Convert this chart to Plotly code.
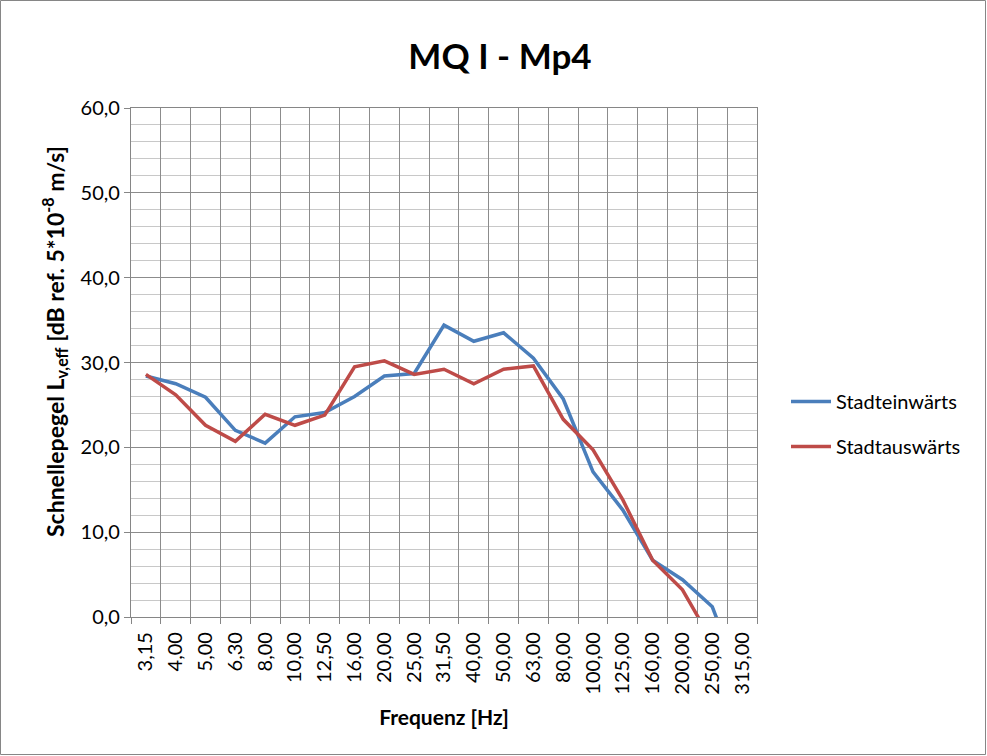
import plotly.graph_objects as go

categories = ["3,15", "4,00", "5,00", "6,30", "8,00", "10,00", "12,50", "16,00", "20,00", "25,00",
              "31,50", "40,00", "50,00", "63,00", "80,00", "100,00", "125,00", "160,00", "200,00",
              "250,00", "315,00"]
stadteinwaerts = [28.4, 27.5, 25.9, 22.0, 20.5, 23.6, 24.1, 26.0, 28.4, 28.7,
                  34.4, 32.5, 33.5, 30.5, 25.7, 17.1, 12.6, 6.7, 4.4, 1.2, -8.0]
stadtauswaerts = [28.6, 26.2, 22.6, 20.7, 23.9, 22.6, 23.8, 29.5, 30.2, 28.6,
                  29.2, 27.5, 29.2, 29.6, 23.3, 19.7, 13.8, 6.7, 3.2, -2.9, -10.0]

FONT = "Lato, 'Open Sans', sans-serif"

fig = go.Figure()
fig.add_trace(go.Scatter(x=categories, y=stadteinwaerts, mode="lines", name="Stadteinwärts",
                         legendgroup="a", line=dict(color="#4A7EBB", width=3.5)))
fig.add_trace(go.Scatter(x=categories, y=stadtauswaerts, mode="lines", name="Stadtauswärts",
                         legendgroup="b", line=dict(color="#BE4B48", width=3.5)))

L, R, T, B = 131, 230, 108, 139
W, H = 987, 756
pw = W - L - R
ph = H - T - B

fig.update_layout(
    width=W, height=H,
    margin=dict(l=L, r=R, t=T, b=B),
    paper_bgcolor="white", plot_bgcolor="white",
    separators=",.",
    font=dict(family=FONT, color="black", size=19),
    title=dict(text="<b>MQ I - Mp4</b>", x=500 / W, xanchor="center", y=1 - 57 / H, yanchor="middle",
               font=dict(size=35, family=FONT, color="black")),
    showlegend=True,
    legend=dict(x=(786 - L) / pw, xanchor="left", y=(H - B - 424) / ph, yanchor="middle",
                font=dict(size=20, family=FONT), bgcolor="rgba(0,0,0,0)",
                tracegroupgap=16, itemwidth=40),
    xaxis=dict(type="category", categoryorder="array", categoryarray=categories,
               range=[-0.5, len(categories) - 0.5],
               tickson="boundaries", ticks="outside", ticklen=6, tickcolor="#868686",
               ticklabelstandoff=6,
               showgrid=True, gridcolor="#8c8c8c", gridwidth=1.2,
               showline=True, linecolor="#868686", linewidth=1.2, mirror=True,
               tickangle=-90, tickfont=dict(size=20, family=FONT),
               title=dict(text="<b>Frequenz [Hz]</b>", font=dict(size=21, family=FONT), standoff=16),
               zeroline=False),
    yaxis=dict(range=[0, 60], dtick=10, tickformat=".1f",
               ticks="outside", ticklen=6, tickcolor="#868686",
               showgrid=True, gridcolor="#8c8c8c", gridwidth=1.2,
               minor=dict(dtick=2, showgrid=True, gridcolor="#c8c8c8", gridwidth=1.2, ticks=""),
               showline=True, linecolor="#868686", linewidth=1.2, mirror=True,
               tickfont=dict(size=20, family=FONT),
               zeroline=False),
)

# y axis title as a rotated annotation (positioned like the reference)
fig.add_annotation(text="<b>Schnellepegel L<sub>v,eff</sub> [dB ref. 5*10<sup>-8</sup> m/s]</b>",
                   xref="paper", yref="paper", x=(54 - L) / pw, y=(H - B - 342) / ph,
                   xanchor="center", yanchor="middle", textangle=-90, showarrow=False,
                   font=dict(size=23, family=FONT, color="black"))

# outer chart border
fig.add_shape(type="rect", xref="paper", yref="paper",
              x0=(0.5 - L) / pw, x1=(W - 1.5 - L) / pw,
              y0=(-(B - 1.5)) / ph, y1=(ph + T - 0.5) / ph,
              line=dict(color="#868686", width=1), layer="below")

fig.write_html("out.html")
